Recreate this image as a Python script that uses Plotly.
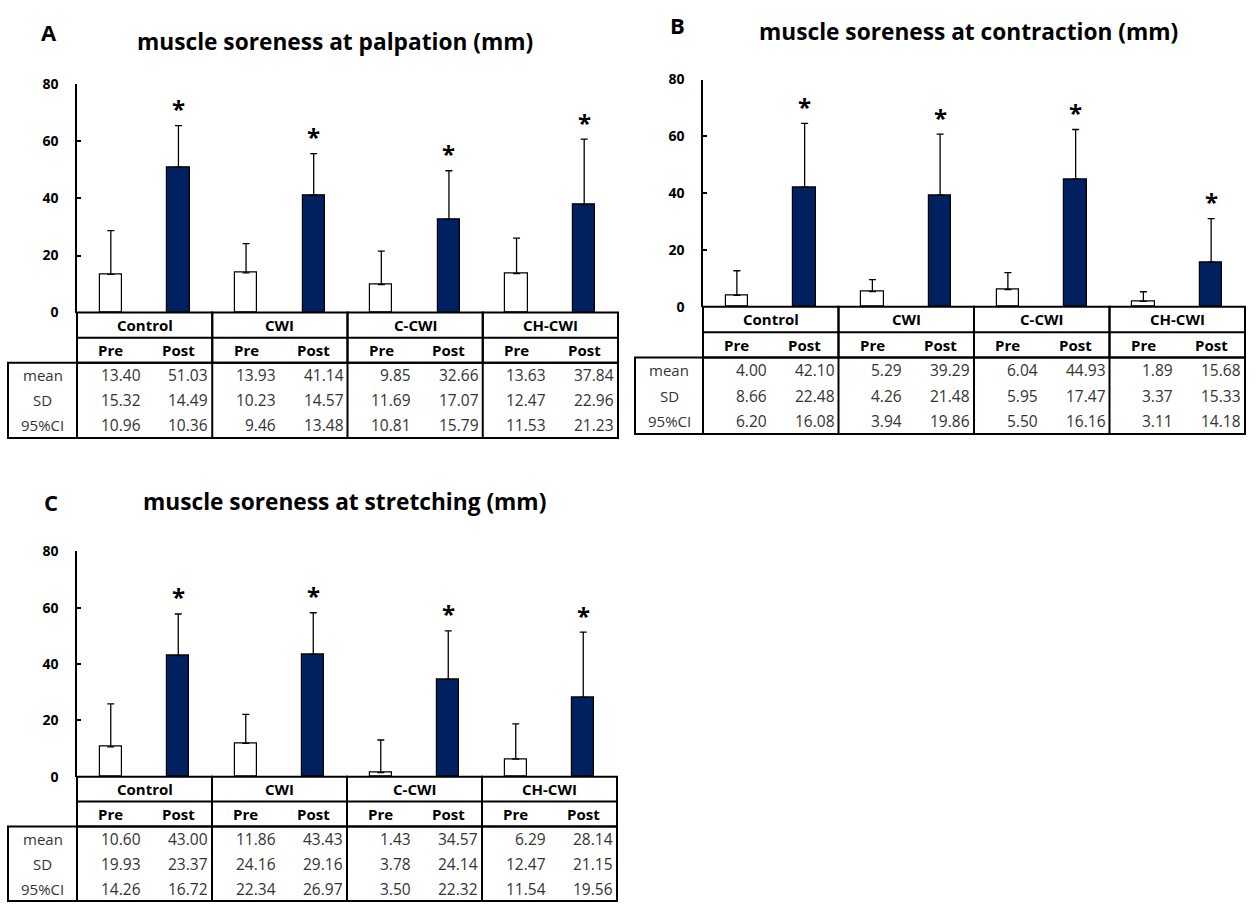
import plotly.graph_objects as go

# ---------------- data ----------------
groups = ["Control", "CWI", "C-CWI", "CH-CWI"]
phases = ["Pre", "Post"]
row_labels = ["mean", "SD", "95%CI"]
y_ticks = [0, 20, 40, 60, 80]

palpation_mean = [13.40, 51.03, 13.93, 41.14, 9.85, 32.66, 13.63, 37.84]
palpation_sd = [15.32, 14.49, 10.23, 14.57, 11.69, 17.07, 12.47, 22.96]
palpation_ci = [10.96, 10.36, 9.46, 13.48, 10.81, 15.79, 11.53, 21.23]
palpation_errbar = [15.32, 14.49, 10.23, 14.57, 11.69, 17.07, 12.47, 22.96]
palpation_sig = ["", "*", "", "*", "", "*", "", "*"]

contraction_mean = [4.00, 42.10, 5.29, 39.29, 6.04, 44.93, 1.89, 15.68]
contraction_sd = [8.66, 22.48, 4.26, 21.48, 5.95, 17.47, 3.37, 15.33]
contraction_ci = [6.20, 16.08, 3.94, 19.86, 5.50, 16.16, 3.11, 14.18]
contraction_errbar = [8.66, 22.48, 4.26, 21.48, 5.95, 17.47, 3.37, 15.33]
contraction_sig = ["", "*", "", "*", "", "*", "", "*"]

stretching_mean = [10.60, 43.00, 11.86, 43.43, 1.43, 34.57, 6.29, 28.14]
stretching_sd = [19.93, 23.37, 24.16, 29.16, 3.78, 24.14, 12.47, 21.15]
stretching_ci = [14.26, 16.72, 22.34, 26.97, 3.50, 22.32, 11.54, 19.56]
# error-bar lengths as drawn in the picture of panel C
stretching_errbar = [15.3, 14.8, 10.3, 14.8, 11.6, 17.2, 12.5, 23.2]
stretching_sig = ["", "*", "", "*", "", "*", "", "*"]

panel_letters = ["A", "B", "C"]
panel_titles = [
    "muscle soreness at palpation (mm)",
    "muscle soreness at contraction (mm)",
    "muscle soreness at stretching (mm)",
]

# ---------------- layout geometry (pixels) ----------------
W, H = 1259, 912
FONT = "Open Sans"
NAVY = "#002060"
GREY = "#333333"

panels = [
    dict(stub_l=8, col_l=77, col_r=618, y80=76, y0=309, tbot=437,
         letter_xy=(49, 22), title_xy=(335, 32),
         mean=palpation_mean, sd=palpation_sd, ci=palpation_ci,
         err=palpation_errbar, sig=palpation_sig),
    dict(stub_l=635, col_l=703, col_r=1245, y80=71, y0=303, tbot=433,
         letter_xy=(677, 15), title_xy=(968, 22),
         mean=contraction_mean, sd=contraction_sd, ci=contraction_ci,
         err=contraction_errbar, sig=contraction_sig),
    dict(stub_l=8, col_l=77, col_r=617, y80=553, y0=783, tbot=910,
         letter_xy=(51, 502), title_xy=(344, 502),
         mean=stretching_mean, sd=stretching_sd, ci=stretching_ci,
         err=stretching_errbar, sig=stretching_sig),
]


def px(x):
    return x / W


def py(y):
    return 1 - y / H


fig = go.Figure()
layout = dict(
    width=W, height=H, margin=dict(l=0, r=0, t=0, b=0),
    paper_bgcolor="white", plot_bgcolor="rgba(0,0,0,0)",
    showlegend=False, font=dict(family=FONT, color="black"),
)
shapes = []
annotations = []
PAD = 4
ncat = len(groups) * len(phases)

for i, p in enumerate(panels):
    bx = 3 * i + 1  # bar axes index
    tx = 3 * i + 2  # table axes index
    bxn = "x" if bx == 1 else f"x{bx}"
    byn = "y" if bx == 1 else f"y{bx}"
    txn = f"x{tx}"
    tyn = f"y{tx}"

    # ---- bar axes ----
    layout["xaxis" if bx == 1 else f"xaxis{bx}"] = dict(
        domain=[px(p["col_l"]), px(p["col_r"])], range=[-0.5, ncat - 0.5],
        visible=False, anchor=byn, fixedrange=True)
    layout["yaxis" if bx == 1 else f"yaxis{bx}"] = dict(
        domain=[py(p["y0"]), py(p["y80"])], range=[0, 80], anchor=bxn,
        tickvals=y_ticks, ticks="inside", ticklen=4, tickwidth=1.5,
        tickcolor="black", showline=True, linecolor="black", linewidth=1.5,
        showgrid=False, zeroline=False, ticklabelstandoff=14,
        tickfont=dict(family=FONT, size=14, color="black", weight="bold"),
        fixedrange=True)

    pre_x = [k for k in range(ncat) if k % 2 == 0]
    post_x = [k for k in range(ncat) if k % 2 == 1]
    fig.add_trace(go.Bar(
        x=pre_x, y=[p["mean"][k] for k in pre_x], width=0.33,
        marker=dict(color="white", line=dict(color="black", width=1.2)),
        error_y=dict(type="data", array=[p["err"][k] for k in pre_x],
                     symmetric=False, arrayminus=[0] * len(pre_x),
                     color="black", thickness=1.3, width=3.5),
        xaxis=bxn, yaxis=byn, hoverinfo="skip"))
    fig.add_trace(go.Bar(
        x=post_x, y=[p["mean"][k] for k in post_x], width=0.33,
        marker=dict(color=NAVY, line=dict(color="black", width=1.2)),
        error_y=dict(type="data", array=[p["err"][k] for k in post_x],
                     symmetric=False, arrayminus=[0] * len(post_x),
                     color="black", thickness=1.3, width=3.5),
        xaxis=bxn, yaxis=byn, hoverinfo="skip"))

    for k in range(ncat):
        if p["sig"][k]:
            annotations.append(dict(
                x=k, y=p["mean"][k] + p["err"][k], xref=bxn, yref=byn,
                text=f"<b>{p['sig'][k]}</b>", showarrow=False, yshift=17,
                xanchor="center", yanchor="middle",
                font=dict(family=FONT, size=24, color="black")))

    # ---- table axes ----
    u = ncat / (p["col_r"] - p["col_l"])
    def xv(pp, p=p, u=u):
        return -0.5 + (pp - p["col_l"]) * u
    r = (p["tbot"] - p["y0"]) / 5.0
    def yv(pp, p=p, r=r):
        return (pp - p["y0"]) / r
    xl_px = max(p["stub_l"] - PAD, 0)
    xr_px = min(p["col_r"] + PAD, W)
    yb_px = min(p["tbot"] + PAD, H)
    yt_px = p["y0"] - PAD
    layout[f"xaxis{tx}"] = dict(
        domain=[px(xl_px), px(xr_px)], range=[xv(xl_px), xv(xr_px)],
        visible=False, anchor=tyn, fixedrange=True)
    layout[f"yaxis{tx}"] = dict(
        domain=[py(yb_px), py(yt_px)], range=[yv(yb_px), yv(yt_px)],
        visible=False, anchor=txn, fixedrange=True)
    # invisible trace so the table axes exist
    fig.add_trace(go.Scatter(x=[0], y=[0], mode="markers", marker=dict(opacity=0),
                             xaxis=txn, yaxis=tyn, hoverinfo="skip"))

    xs = xv(p["stub_l"])
    line = dict(color="black", width=2)
    for g in range(len(groups)):
        x0, x1 = 2 * g - 0.5, 2 * g + 1.5
        shapes.append(dict(type="rect", xref=txn, yref=tyn, x0=x0, x1=x1, y0=0, y1=2, line=line))
        shapes.append(dict(type="line", xref=txn, yref=tyn, x0=x0, x1=x1, y0=1, y1=1, line=line))
        shapes.append(dict(type="line", xref=txn, yref=tyn, x0=x0, x1=x0, y0=2, y1=5, line=line))
        annotations.append(dict(x=2 * g + 0.5, y=0.5, xref=txn, yref=tyn,
                                text=f"<b>{groups[g]}</b>", showarrow=False,
                                xanchor="center", yanchor="middle",
                                font=dict(family=FONT, size=15, color="black")))
        for j, ph in enumerate(phases):
            annotations.append(dict(x=2 * g + j, y=1.5, xref=txn, yref=tyn,
                                    text=f"<b>{ph}</b>", showarrow=False,
                                    xanchor="center", yanchor="middle",
                                    font=dict(family=FONT, size=15, color="black")))
    shapes.append(dict(type="rect", xref=txn, yref=tyn, x0=xs, x1=ncat - 0.5, y0=2, y1=5, line=line))

    for ri, (lab, vals) in enumerate(zip(row_labels, [p["mean"], p["sd"], p["ci"]])):
        yc = 2.5 + ri
        annotations.append(dict(x=(xs - 0.5) / 2, y=yc, xref=txn, yref=tyn, text=lab,
                                showarrow=False, xanchor="center", yanchor="middle",
                                font=dict(family=FONT, size=15, color=GREY)))
        for k in range(ncat):
            annotations.append(dict(x=k + 0.5, y=yc, xref=txn, yref=tyn,
                                    text=f"{vals[k]:.2f}", showarrow=False,
                                    xanchor="right", yanchor="middle", xshift=-2,
                                    font=dict(family=FONT, size=15.5, color=GREY)))

    # ---- titles ----
    lx, ly = p["letter_xy"]
    annotations.append(dict(x=px(lx), y=py(ly), xref="paper", yref="paper",
                            text=f"<b>{panel_letters[i]}</b>", showarrow=False,
                            xanchor="center", yanchor="middle",
                            font=dict(family=FONT, size=22, color="black")))
    tx_, ty_ = p["title_xy"]
    annotations.append(dict(x=px(tx_), y=py(ty_), xref="paper", yref="paper",
                            text=f"<b>{panel_titles[i]}</b>", showarrow=False,
                            xanchor="center", yanchor="middle",
                            font=dict(family=FONT, size=22.7, color="black")))

layout["shapes"] = shapes
layout["annotations"] = annotations
layout["bargap"] = 0
fig.update_layout(**layout)
fig.write_html("out.html", config={"displayModeBar": False})
